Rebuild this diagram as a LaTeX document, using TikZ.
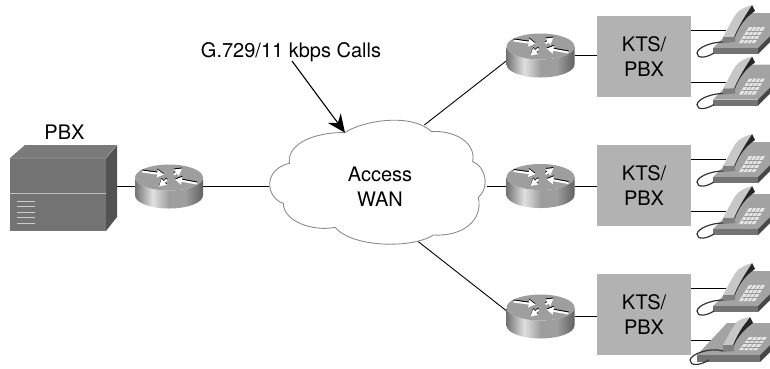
\documentclass[tikz,border=0pt]{standalone}
\usepackage{fontspec}
\setmainfont{TeX Gyre Heros}
\usetikzlibrary{arrows.meta,calc}
\pgfdeclarehorizontalshading{rtrside}{100bp}{rgb(0bp)=(.45,.45,.45); rgb(25bp)=(.45,.45,.45); rgb(38bp)=(.88,.88,.88); rgb(50bp)=(.62,.62,.62); rgb(62bp)=(.62,.62,.62); rgb(75bp)=(.38,.38,.38); rgb(100bp)=(.38,.38,.38)}
\tikzset{
  wire/.style={draw=black,line width=0.9pt},
  rtrbox/.style={minimum width=68pt,minimum height=44pt,inner sep=0pt},
  ktsbox/.style={fill=black!30,minimum width=94pt,minimum height=81pt,inner sep=0pt,align=center,font=\fontsize{20}{25}\selectfont},
  lbl/.style={font=\fontsize{20}{25}\selectfont,inner sep=0pt},
  rtrarrow/.style={line width=2pt,-{Triangle[length=7pt,width=7.5pt]}}
}
\newcommand{\routershape}[1]{%
  \begin{scope}[shift={(#1)}]
    \path[shading=rtrside] (-34,-9) arc[start angle=180,end angle=360,x radius=34pt,y radius=13pt] -- (34,9) arc[start angle=0,end angle=-180,x radius=34pt,y radius=13pt] -- cycle;
    \fill[black!38] (0,-9) ellipse[x radius=34pt,y radius=13pt];
    \foreach \sx/\sy/\ex/\ey in {-27/-15/-5/-12,28/-3/6/-7,5/-12/13/-18,-2/-7/-10/0}{
      \draw[rtrarrow,black] (\sx,\sy-1) -- (\ex,\ey-1);
      \draw[rtrarrow,white] (\sx,\sy) -- (\ex,\ey);
    }
  \end{scope}}
\newcommand{\phoneA}[1]{%
  \begin{scope}[shift={(#1)}]
    \fill[black!36] (23,48) -- (58,13) -- (103,13) -- (68,48) -- cycle;
    \fill[black!55] (23,48) -- (68,48) -- (68,54) -- (23,54) -- cycle;
    \fill[black!72] (68,48) -- (103,13) -- (103,19) -- (68,54) -- cycle;
    \fill[black!10] (49,43) -- (65,43) -- (75,27) -- (59,27) -- cycle;
    \foreach \t in {.25,.5,.75}{
      \draw[black!40,line width=.5pt] ($(49,43)!\t!(59,27)$) -- ($(65,43)!\t!(75,27)$);
      \draw[black!40,line width=.5pt] ($(49,43)!\t!(65,43)$) -- ($(59,27)!\t!(75,27)$);
    }
    \fill[black!85] (62,5) -- (65,11) .. controls (56,17) and (49,26) .. (45,37) -- (40,37) -- cycle;
    \fill[black!22] (33,37) .. controls (38,28) and (42,20) .. (46,14) .. controls (49,10) and (55,7) .. (62,5) .. controls (56,14) and (49,25) .. (44,37) -- cycle;
    \fill[black!50] (33,37) -- (45,37) -- (45,42) -- (33,43) -- cycle;
    \draw[black!80,line width=1.2pt] (33,42) .. controls (22,42) and (8,47) .. (7,53) .. controls (7,59) and (16,58) .. (24,53);
  \end{scope}}
\newcommand{\phoneB}[1]{%
  \begin{scope}[shift={(#1)}]
    \fill[black!36] (12,45) -- (42,13) -- (107,13) -- (75,45) -- cycle;
    \fill[black!55] (12,45) -- (75,45) -- (75,52) -- (12,52) -- cycle;
    \fill[black!72] (75,45) -- (107,13) -- (107,20) -- (75,52) -- cycle;
    \fill[black!10] (54,40) -- (72,40) -- (82,27) -- (64,27) -- cycle;
    \foreach \t in {.25,.5,.75}{
      \draw[black!40,line width=.5pt] ($(54,40)!\t!(64,27)$) -- ($(72,40)!\t!(82,27)$);
      \draw[black!40,line width=.5pt] ($(54,40)!\t!(72,40)$) -- ($(64,27)!\t!(82,27)$);
    }
    \fill[black!85] (65,7) -- (68,13) .. controls (60,19) and (53,26) .. (49,35) -- (44,35) -- cycle;
    \fill[black!22] (38,35) .. controls (43,26) and (47,18) .. (52,12) .. controls (55,9) and (60,8) .. (65,7) .. controls (58,15) and (52,25) .. (48,35) -- cycle;
    \fill[black!50] (38,35) -- (49,35) -- (49,41) -- (38,42) -- cycle;
    \draw[black!80,line width=1.2pt] (38,41) .. controls (25,37) and (6,44) .. (5,50) .. controls (5,56) and (14,56) .. (24,50);
  \end{scope}}
\begin{document}
\begin{tikzpicture}[x=1pt,y=-1pt]
\useasboundingbox (0,0) rectangle (770,368);
% nodes
\node[lbl,anchor=base] (pbxlabel) at (64.5,139) {PBX};
\node[minimum width=107pt,minimum height=86pt,inner sep=0pt] (pbx) at (63.5,188) {};
\node[rtrbox] (r0) at (169,186.5) {};
\node[rtrbox] (r1) at (540.5,55.5) {};
\node[rtrbox] (r2) at (540.5,186) {};
\node[rtrbox] (r3) at (540.5,316.5) {};
\node[ktsbox] (k1) at (644,56.5) {KTS/\\PBX};
\node[ktsbox] (k2) at (644,185.5) {KTS/\\PBX};
\node[ktsbox] (k3) at (644,314.5) {KTS/\\PBX};
\node[lbl,anchor=base] (calls) at (291,57) {G.729/11 kbps Calls};
\coordinate (callsend) at (292,61);
\foreach \n/\py in {p1/30,p2/82,p3/159,p4/211,p5/288,p6/340}{\coordinate (\n) at (726,\py);}
% cloud
\begin{scope}[shift={(250,90)},x=1/3*1pt,y=-1/3*1pt]
  \draw[draw=black!45,fill=white,line width=.9pt] (285,128) .. controls (330,95) and (480,65) .. (545,125)
   .. controls (600,120) and (680,150) .. (668,215)
   .. controls (700,225) and (725,285) .. (685,322)
   .. controls (700,390) and (640,440) .. (550,435)
   .. controls (490,475) and (310,475) .. (255,412)
   .. controls (190,425) and (100,395) .. (100,340)
   .. controls (50,325) and (35,240) .. (118,220)
   .. controls (110,150) and (220,125) .. (285,128) -- cycle;
  \coordinate (cN) at (285,128);
  \coordinate (cNE) at (523,105);
  \coordinate (cE) at (710,288);
  \coordinate (cS) at (505,455);
  \coordinate (cW) at (58,288);
\end{scope}
\node[lbl,align=center] (wan) at (380,186.5) {Access\\WAN};
% connectors
\coordinate (r1in) at (510,58);
\coordinate (r3in) at (508,312);
\draw[wire] (pbx.east |- r0.west) -- (r0.west);
\draw[wire] (r0.east) -- (r0.east -| cW);
\draw[wire] (cE |- r2.west) -- (r2.west);
\draw[wire] (cNE) -- (r1in);
\draw[wire] (cS) -- (r3in);
\draw[wire] (r1.east) -- (r1.east -| k1.west);
\draw[wire] (r2.east) -- (r2.east -| k2.west);
\draw[wire] (r3.east) -- (r3.east -| k3.west);
\draw[wire] (p1 -| k1.east) -- (p1);
\draw[wire] (p2 -| k1.east) -- (p2);
\draw[wire] (p3 -| k2.east) -- (p3);
\draw[wire] (p4 -| k2.east) -- (p4);
\draw[wire] (p5 -| k3.east) -- (p5);
\draw[wire] (p6 -| k3.east) -- (p6);
\draw[line width=1.1pt,-{Stealth[length=18pt,width=16pt,inset=6pt]}] (callsend) -- (cN);
% PBX
\fill[black!52] (10,158) -- (25,145) -- (117,145) -- (106,158) -- cycle;
\fill[black!68] (106,158) -- (117,145) -- (117,217) -- (106,231) -- cycle;
\fill[black!55] (10,158) rectangle (106,231);
\draw[black!25,line width=.9pt] (10,193.5) -- (106,193.5);
\draw[black!35,line width=.5pt] (10,158) -- (106,158) -- (117,145);
\foreach \ly in {201,206.5,212,217.5,223}{\draw[black!20,line width=.6pt] (17,\ly) -- (35,\ly);}
% routers
\routershape{r0}
\routershape{r1}
\routershape{r2}
\routershape{r3}
% phones
\phoneA{690,0}
\phoneA{690,51.5}
\phoneA{690,129}
\phoneA{690,181}
\phoneA{690,258}
\phoneB{685,310}
\end{tikzpicture}
\end{document}
